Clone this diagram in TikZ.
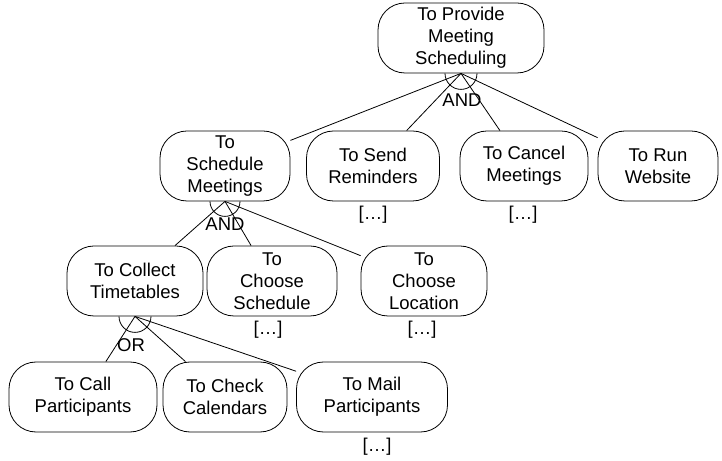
\documentclass[tikz,border=0pt]{standalone}
\usepackage{fontspec}
\setmainfont{Liberation Sans}
\usepackage{tikz}

\begin{document}
\begin{tikzpicture}[x=1pt,y=1pt]
\tikzstyle{every node}+=[inner sep=0pt,font=\fontsize{18.5}{22}\selectfont]
\tikzstyle{goal}=[draw,line width=0.8pt,fill=white,rounded corners=27pt,align=center,minimum height=70pt]
\tikzstyle{link}=[line width=0.8pt]
\useasboundingbox (0,0) rectangle (722,460);
\node [goal,minimum width=166pt] (provide) at (461,422) {To Provide\\Meeting\\Scheduling};
\node [goal,minimum width=130pt] (schedule) at (225,294) {To\\Schedule\\Meetings};
\node [goal,minimum width=133pt] (remind) at (373,294) {To Send\\Reminders};
\node [goal,minimum width=128pt] (cancel) at (524,294) {To Cancel\\Meetings};
\node [goal,minimum width=120pt] (website) at (658,294) {To Run\\Website};
\node (remind dots) at (373,245) {[\dots]};
\node (cancel dots) at (523,245) {[\dots]};
\node [goal,minimum width=136pt] (collect) at (135,179) {To Collect\\Timetables};
\node [goal,minimum width=130pt] (choose) at (272,179) {To\\Choose\\Schedule};
\node [goal,minimum width=126pt] (location) at (424,179) {To\\Choose\\Location};
\node (choose dots) at (268,130) {[\dots]};
\node (location dots) at (422,130) {[\dots]};
\node [goal,minimum width=148pt] (call) at (83,63) {To Call\\Participants};
\node [goal,minimum width=124pt] (check) at (225,63) {To Check\\Calendars};
\node [goal,minimum width=151pt] (mail) at (372,63) {To Mail\\Participants};
\node (mail dots) at (377,13) {[\dots]};
\draw [link] (provide.south) -- (schedule);
\draw [link] (provide.south) -- (remind);
\draw [link] (provide.south) -- (cancel);
\draw [link] (provide.south) -- (website);
\draw [link] (provide.south) ++(-16,0) arc (180:360:16);
\node (and1) at (462,360) {AND};
\draw [link] (schedule.south) -- (collect);
\draw [link] (schedule.south) -- (choose);
\draw [link] (schedule.south) -- (location);
\draw [link] (schedule.south) ++(-15,0) arc (180:360:15);
\node (and2) at (225,236) {AND};
\draw [link] (collect.south) -- (call);
\draw [link] (collect.south) -- (check);
\draw [link] (collect.south) -- (mail);
\draw [link] (collect.south) ++(-16,0) arc (180:360:16);
\node (or) at (131,115) {OR};
\end{tikzpicture}
\end{document}
